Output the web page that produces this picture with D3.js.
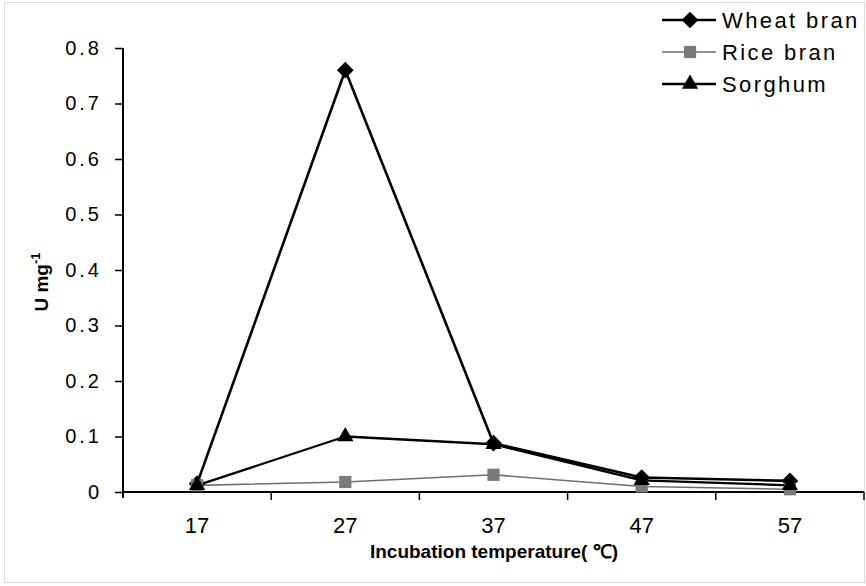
<!DOCTYPE html>
<html>
<head>
<meta charset="utf-8">
<script src="https://cdn.jsdelivr.net/npm/d3@7"></script>
<style>
  body { margin: 0; background: #fff; }
  svg { font-family: "Liberation Sans", Arial, sans-serif; }
</style>
</head>
<body>
<svg id="chart" width="866" height="586"></svg>
<script>
// Data
var temps = ["17", "27", "37", "47", "57"];
var wheatBran = [0.015, 0.76, 0.088, 0.026, 0.02];
var riceBran = [0.012, 0.018, 0.031, 0.01, 0.005];
var sorghum = [0.012, 0.1, 0.086, 0.021, 0.012];
var yTicks = [0, 0.1, 0.2, 0.3, 0.4, 0.5, 0.6, 0.7, 0.8];

// diamond = square turned 45 degrees
var seriesList = [
  { name: "Wheat bran", values: wheatBran, symbol: d3.symbolSquare, rot: 45, color: "#000", fill: "#000", width: 2.6, size: 140 },
  { name: "Rice bran", values: riceBran, symbol: d3.symbolSquare, rot: 0, color: "#6e6e6e", fill: "#7a7a7a", width: 1.6, size: 150 },
  { name: "Sorghum", values: sorghum, symbol: d3.symbolTriangle, rot: 0, color: "#000", fill: "#000", width: 2.3, size: 115 }
];

var svg = d3.select("#chart");

// faint scan border
svg.append("rect")
    .attr("x", 4.5).attr("y", 2.5)
    .attr("width", 860).attr("height", 580)
    .attr("fill", "none")
    .attr("stroke", "#bbb")
    .attr("stroke-dasharray", "1,1");

var plotLeft = 123, plotRight = 864, plotTop = 48, plotBottom = 492;

var xScale = d3.scaleBand().domain(temps).range([plotLeft, plotRight]);
var yScale = d3.scaleLinear().domain([0, 0.8]).range([plotBottom, plotTop]);

// y axis
var yAxis = d3.axisLeft(yScale)
    .tickValues(yTicks)
    .tickSize(8)
    .tickSizeOuter(0)
    .tickFormat(function(d) { return d === 0 ? "0" : d3.format(".1f")(d); });

var gy = svg.append("g")
    .attr("transform", "translate(" + plotLeft + ",0)")
    .call(yAxis);
gy.select(".domain").attr("stroke", "#000").attr("stroke-width", 2)
    .attr("d", "M0," + plotTop + "V" + (plotBottom + 6));
gy.selectAll(".tick line").attr("stroke-width", 1.5);
gy.selectAll(".tick text")
    .attr("x", -21)
    .attr("font-size", 20)
    .attr("letter-spacing", 3)
    .attr("fill", "#000");

// x axis: labels centred in bands, ticks on band edges
var gx = svg.append("g")
    .attr("transform", "translate(0," + plotBottom + ")");
gx.append("line")
    .attr("x1", plotLeft).attr("x2", plotRight)
    .attr("y1", 0).attr("y2", 0)
    .attr("stroke", "#000").attr("stroke-width", 2);
gx.selectAll(".xtick")
    .data(temps)
    .enter().append("line")
    .attr("x1", function(d) { return xScale(d) + xScale.bandwidth(); })
    .attr("x2", function(d) { return xScale(d) + xScale.bandwidth(); })
    .attr("y1", 0).attr("y2", 8)
    .attr("stroke", "#000").attr("stroke-width", 1.5);
gx.selectAll(".xlabel")
    .data(temps)
    .enter().append("text")
    .attr("x", function(d) { return xScale(d) + xScale.bandwidth() / 2; })
    .attr("y", 41)
    .attr("text-anchor", "middle")
    .attr("font-size", 22)
    .text(function(d) { return d; });

// axis titles
svg.append("text")
    .attr("x", 494).attr("y", 558)
    .attr("text-anchor", "middle")
    .attr("font-size", 19)
    .attr("font-weight", "bold")
    .text("Incubation temperature( \u2103)");

var yl = svg.append("text")
    .attr("transform", "translate(48,282) rotate(-90)")
    .attr("text-anchor", "middle")
    .attr("font-size", 19)
    .attr("font-weight", "bold");
yl.append("tspan").text("U mg");
yl.append("tspan").attr("dy", -8).attr("font-size", 13).text("-1");

// lines and markers
var cx = function(i) { return xScale(temps[i]) + xScale.bandwidth() / 2; };
var line = d3.line()
    .x(function(d, i) { return cx(i); })
    .y(function(d) { return yScale(d); });

seriesList.forEach(function(s) {
  svg.append("path")
      .datum(s.values)
      .attr("fill", "none")
      .attr("stroke", s.color)
      .attr("stroke-width", s.width)
      .attr("stroke-linejoin", "round")
      .attr("d", line);
});

seriesList.forEach(function(s) {
  svg.selectAll(null)
      .data(s.values)
      .enter().append("path")
      .attr("d", d3.symbol().type(s.symbol).size(s.size))
      .attr("fill", s.fill)
      .attr("transform", function(d, i) {
        return "translate(" + cx(i) + "," + yScale(d) + ") rotate(" + s.rot + ")";
      });
});

// legend
var legend = svg.append("g").attr("transform", "translate(662,0)");
seriesList.forEach(function(s, i) {
  var y = 20 + i * 32;
  legend.append("line")
      .attr("x1", 0).attr("x2", 54)
      .attr("y1", y).attr("y2", y)
      .attr("stroke", s.color)
      .attr("stroke-width", s.width);
  legend.append("path")
      .attr("d", d3.symbol().type(s.symbol).size(s.size))
      .attr("fill", s.fill)
      .attr("transform", "translate(28," + y + ") rotate(" + s.rot + ")");
  legend.append("text")
      .attr("x", 60).attr("y", y + 8)
      .attr("font-size", 22)
      .attr("letter-spacing", 2.4)
      .text(s.name);
});
</script>
</body>
</html>
